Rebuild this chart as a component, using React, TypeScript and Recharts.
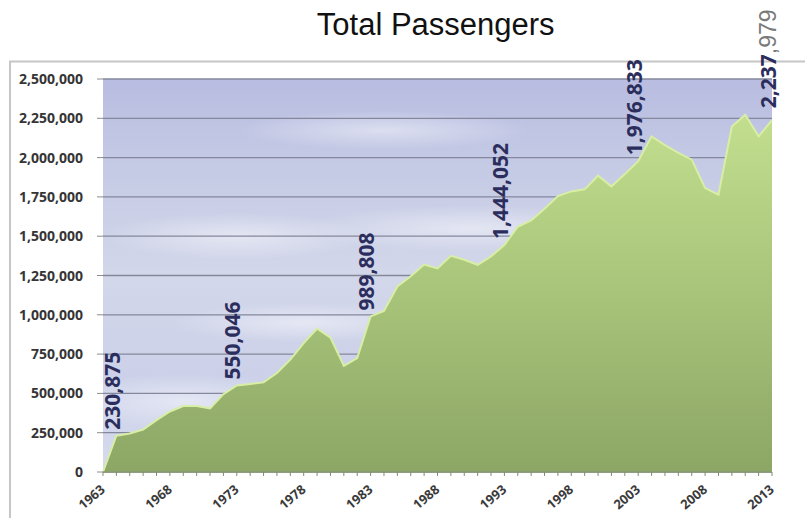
import React from 'react';
import { AreaChart, Area, XAxis, YAxis, CartesianGrid, LabelList } from 'recharts';

const title = 'Total Passengers';

const years = [
  1963, 1964, 1965, 1966, 1967, 1968, 1969, 1970, 1971, 1972,
  1973, 1974, 1975, 1976, 1977, 1978, 1979, 1980, 1981, 1982,
  1983, 1984, 1985, 1986, 1987, 1988, 1989, 1990, 1991, 1992,
  1993, 1994, 1995, 1996, 1997, 1998, 1999, 2000, 2001, 2002,
  2003, 2004, 2005, 2006, 2007, 2008, 2009, 2010, 2011, 2012,
  2013,
];

const passengers = [
  0, 230875, 245000, 270000, 330000, 385000, 420000, 420000, 405000, 495000,
  550046, 560000, 570000, 630000, 715000, 820000, 912000, 855000, 675000, 725000,
  989808, 1025000, 1180000, 1245000, 1320000, 1295000, 1375000, 1350000, 1318000, 1372000,
  1444052, 1560000, 1600000, 1675000, 1755000, 1785000, 1798000, 1885000, 1817000, 1895000,
  1976833, 2135000, 2080000, 2030000, 1987000, 1806000, 1764000, 2198000, 2273000, 2135000,
  2237979,
];

const labeledYears = [1964, 1973, 1983, 1993, 2003, 2013];
const xLabelYears = [1963, 1968, 1973, 1978, 1983, 1988, 1993, 1998, 2003, 2008, 2013];
const yTicks = [0, 250000, 500000, 750000, 1000000, 1250000, 1500000, 1750000, 2000000, 2250000, 2500000];

const data = years.map((year, i) => ({
  year,
  passengers: passengers[i],
  label: labeledYears.includes(year) ? passengers[i] : null,
}));

const fmt = (v: number) => v.toLocaleString('en-US');

const renderXTick = (props: any) => {
  const { x, y, payload, index } = props;
  if (!xLabelYears.includes(payload.value)) return <g key={`xt-${index}`} />;
  const ax = Number(x) + 3;
  const ay = Number(y);
  return (
    <g key={`xt-${index}`} transform={`translate(${ax} ${ay}) rotate(-40)`}>
      <text
        x={0}
        y={0}
        textAnchor="end"
        fontFamily="'Open Sans', sans-serif"
        fontWeight={700}
        fontSize={13}
        fill="#3a3a3a"
      >
        {String(payload.value)}
      </text>
    </g>
  );
};

const renderYTick = (props: any) => {
  const { x, y, payload, index } = props;
  return (
    <text
      key={`yt-${index}`}
      x={x}
      y={y}
      dy="0.36em"
      textAnchor="end"
      fontFamily="'Open Sans', sans-serif"
      fontWeight={700}
      fontSize={14}
      fill="#353535"
    >
      {fmt(payload.value)}
    </text>
  );
};

const renderLabel = (props: any) => {
  const { x, y, value } = props;
  if (value === null || value === undefined || x === undefined || y === undefined) return null;
  const text = fmt(Number(value));
  const isLast = Number(value) === passengers[passengers.length - 1];
  const bx = Number(x) + 3.5;
  const by = isLast ? Number(y) - 12 : Number(y) - 6;
  return (
    <g transform={`translate(${bx} ${by}) rotate(-90)`}>
      <text
        x={0}
        y={0}
        textAnchor="start"
        fontFamily="'Open Sans', sans-serif"
        fontWeight={700}
        fontSize={21}
        fill="#2b2e5c"
      >
        {isLast ? (
          <>
            <tspan>{text.slice(0, 5)}</tspan>
            <tspan fill="#7a7a7a" fontWeight={400} fontSize={23} fontFamily="'Liberation Sans', Arial, sans-serif">
              {text.slice(5)}
            </tspan>
          </>
        ) : (
          text
        )}
      </text>
    </g>
  );
};

export default function App() {
  return (
    <div style={{ position: 'absolute', left: 0, top: 0, width: 805, height: 518, overflow: 'hidden', background: '#fff' }}>
      <svg width={805} height={518} style={{ position: 'absolute', left: 0, top: 0 }}>
        <rect x={10} y={61.5} width={900} height={600} fill="#ffffff" stroke="#c6c6c6" strokeWidth={2} />
      </svg>
      <div style={{ position: 'absolute', left: 0, top: 0 }}>
        <AreaChart
          width={805}
          height={518}
          data={data}
          margin={{ top: 79, right: 33, bottom: 6, left: 0 }}
          style={{ overflow: 'visible' }}
        >
          <defs>
            <linearGradient id="skyBase" x1="0" y1="0" x2="0" y2="1">
              <stop offset="0" stopColor="#b8bde1" />
              <stop offset="0.22" stopColor="#c5cae5" />
              <stop offset="0.5" stopColor="#d3d7ea" />
              <stop offset="0.75" stopColor="#ccd1e9" />
              <stop offset="1" stopColor="#d5daee" />
            </linearGradient>
            <radialGradient id="cloud" cx="0.5" cy="0.5" r="0.5">
              <stop offset="0" stopColor="#ffffff" stopOpacity={0.45} />
              <stop offset="1" stopColor="#ffffff" stopOpacity={0} />
            </radialGradient>
            <pattern id="sky" patternUnits="objectBoundingBox" patternContentUnits="objectBoundingBox" width="1" height="1">
              <rect x="0" y="0" width="1" height="1" fill="url(#skyBase)" />
              <ellipse cx="0.42" cy="0.13" rx="0.22" ry="0.05" fill="url(#cloud)" />
              <ellipse cx="0.2" cy="0.4" rx="0.2" ry="0.06" fill="url(#cloud)" />
              <ellipse cx="0.55" cy="0.38" rx="0.25" ry="0.06" fill="url(#cloud)" />
              <ellipse cx="0.12" cy="0.82" rx="0.18" ry="0.07" fill="url(#cloud)" />
              <ellipse cx="0.3" cy="0.62" rx="0.2" ry="0.05" fill="url(#cloud)" />
            </pattern>
            <linearGradient id="green" x1="0" y1="0" x2="0" y2="1">
              <stop offset="0" stopColor="#c2de8e" />
              <stop offset="0.5" stopColor="#a8c47a" />
              <stop offset="1" stopColor="#8ca665" />
            </linearGradient>
          </defs>
          <CartesianGrid
            horizontal={true}
            vertical={false}
            stroke="#85889b"
            strokeWidth={1.3}
            fill="url(#sky)"
            fillOpacity={1}
          />
          <XAxis
            dataKey="year"
            type="number"
            domain={[1963, 2013]}
            ticks={years}
            interval={0}
            height={40}
            tickSize={4}
            tickMargin={15}
            axisLine={{ stroke: '#8a9a74', strokeWidth: 1.5 }}
            tickLine={{ stroke: '#7f8e6c' }}
            tick={renderXTick}
          />
          <YAxis
            type="number"
            domain={[0, 2500000]}
            ticks={yTicks}
            interval={0}
            width={103}
            tickSize={6}
            tickMargin={14}
            axisLine={false}
            tickLine={{ stroke: '#8c8c8c' }}
            tick={renderYTick}
          />
          <Area
            type="linear"
            dataKey="passengers"
            stroke="#d8eea4"
            strokeWidth={2}
            fill="url(#green)"
            fillOpacity={1}
            dot={false}
            activeDot={false}
            isAnimationActive={false}
          >
            <LabelList dataKey="label" content={renderLabel} />
          </Area>
        </AreaChart>
      </div>
      <svg width={805} height={518} style={{ position: 'absolute', left: 0, top: 0, pointerEvents: 'none' }}>
        <text
          x={435.7}
          y={35}
          textAnchor="middle"
          fontFamily="'Liberation Sans', Arial, sans-serif"
          fontSize={31}
          fill="#111111"
        >
          {title}
        </text>
      </svg>
    </div>
  );
}
